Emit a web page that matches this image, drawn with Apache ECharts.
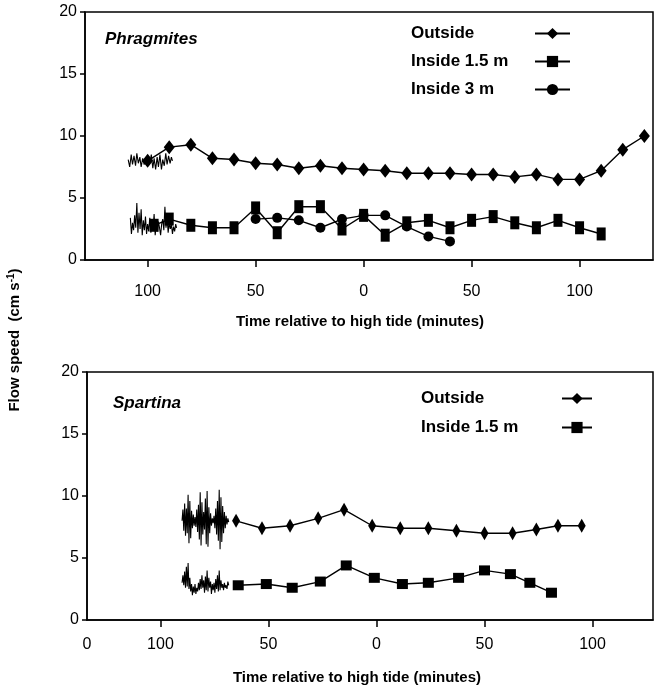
<!DOCTYPE html>
<html>
<head>
<meta charset="utf-8">
<script src="https://cdn.jsdelivr.net/npm/echarts@6/dist/echarts.min.js"></script>
<style>
html,body{margin:0;padding:0;background:#fff;}
#c{width:659px;height:693px;}
</style>
</head>
<body>
<div id="c"></div>
<script>
// ---------- Phragmites (top panel) ----------
const phrOutsideT = [-100,-90,-80,-70,-60,-50,-40,-30,-20,-10,0,10,20,30,40,50,60,70,80,90,100,110,120,130];
const phrOutsideV = [8.0,9.1,9.3,8.2,8.1,7.8,7.7,7.4,7.6,7.4,7.3,7.2,7.0,7.0,7.0,6.9,6.9,6.7,6.9,6.5,6.5,7.2,8.9,10.0];
const phrIn15T = [-97,-90,-80,-70,-60,-50,-40,-30,-20,-10,0,10,20,30,40,50,60,70,80,90,100,110];
const phrIn15V = [2.8,3.3,2.8,2.6,2.6,4.2,2.2,4.3,4.3,2.5,3.6,2.0,3.0,3.2,2.6,3.2,3.5,3.0,2.6,3.2,2.6,2.1];
const phrIn3T = [-50,-40,-30,-20,-10,0,10,20,30,40];
const phrIn3V = [3.3,3.4,3.2,2.6,3.3,3.6,3.6,2.7,1.9,1.5];
// raw (noisy) records at start
const phrOutNoiseT = [-109,-108.3,-107.6,-107,-106.3,-105.6,-105,-104.3,-103.6,-103,-102.3,-101.6,-101,-100.3,-99.6,-99,-98.3,-97.6,-97,-96.3,-95.6,-95,-94.3,-93.6,-93,-92.3,-91.6,-91,-90.3,-89.6,-89,-88.5];
const phrOutNoiseV = [8.1,7.5,8.5,7.7,8.4,7.6,8.6,7.8,8.3,7.5,8.2,7.7,8.0,7.6,8.4,7.8,8.5,7.4,8.2,7.3,8.3,7.5,8.5,7.3,8.1,7.6,8.6,7.7,8.4,7.8,8.3,8.0];
const phrInNoiseT = [-108,-107.5,-107,-106.5,-106,-105.5,-105,-104.5,-104,-103.5,-103,-102.5,-102,-101.5,-101,-100.5,-100,-99.5,-99,-98.5,-98,-97.5,-97,-96.5,-96,-95.5,-95,-94.5,-94,-93.5,-93,-92.5,-92,-91.5,-91,-90.5,-90,-89.5,-89,-88.5,-88,-87.5,-87,-86.6];
const phrInNoiseV = [3.4,2.1,3.0,2.4,3.6,2.6,4.6,2.2,3.8,2.5,4.1,2.0,3.2,2.4,3.5,2.1,2.9,2.3,3.4,2.2,3.0,2.5,3.7,2.0,2.8,2.3,3.1,2.6,2.0,2.9,3.3,2.4,4.3,2.6,3.5,2.2,3.0,2.5,2.9,2.1,2.7,2.3,2.9,2.6];

// ---------- Spartina (bottom panel) ----------
const spaOutsideT = [-65,-53,-40,-27,-15,-2,11,24,37,50,63,74,84,95];
const spaOutsideV = [8.0,7.4,7.6,8.2,8.9,7.6,7.4,7.4,7.2,7.0,7.0,7.3,7.6,7.6];
const spaIn15T = [-64,-51,-39,-26,-14,-1,12,24,38,50,62,71,81];
const spaIn15V = [2.8,2.9,2.6,3.1,4.4,3.4,2.9,3.0,3.4,4.0,3.7,3.0,2.2];
const spaOutNoiseT = [-90,-89.6,-89.2,-88.8,-88.4,-88,-87.6,-87.2,-86.8,-86.4,-86,-85.6,-85.2,-84.8,-84.4,-84,-83.6,-83.2,-82.8,-82.4,-82,-81.6,-81.2,-80.8,-80.4,-80,-79.6,-79.2,-78.8,-78.4,-78,-77.6,-77.2,-76.8,-76.4,-76,-75.6,-75.2,-74.8,-74.4,-74,-73.6,-73.2,-72.8,-72.4,-72,-71.6,-71.2,-70.8,-70.4,-70,-69.6,-69.2,-68.8,-68.4];
const spaOutNoiseV = [8.0,8.9,7.2,9.4,6.8,9.0,7.0,10.1,6.2,9.6,6.6,8.8,7.4,8.5,7.6,8.3,7.5,8.9,7.1,9.3,6.5,10.3,6.0,9.5,6.9,8.7,7.3,9.8,6.1,10.4,5.9,9.1,7.0,8.6,7.6,8.2,7.8,8.4,7.4,9.0,6.9,9.6,6.4,10.5,5.7,9.9,6.3,9.2,7.0,8.7,7.4,8.4,7.7,8.2,7.9];
const spaInNoiseT = spaOutNoiseT;
const spaInNoiseV = [3.0,3.6,2.8,3.9,2.6,4.3,2.7,4.6,2.5,3.4,2.3,2.9,2.0,2.7,2.2,2.9,2.1,2.6,2.3,3.0,2.4,3.3,2.5,3.6,2.6,3.2,2.2,3.5,2.4,4.0,2.3,3.4,2.6,3.1,2.1,2.9,2.4,3.0,2.2,3.3,2.5,3.6,2.3,4.0,2.4,3.2,2.6,2.9,2.4,3.0,2.6,2.8,2.5,3.1,2.8];

// tick labels
const xTicks = [-100,-50,0,50,100];
const yTicks = [0,5,10,15,20];

const zip = (t, v) => t.map((x, i) => [x, v[i]]);
const FONT = '"Liberation Sans", Arial, Helvetica, sans-serif';
const K = '#000';

function xAxisCfg(idx, min, max, labelVals, margin, nameGap, padR) {
  return {
    type: 'value', gridIndex: idx, min: min, max: max,
    axisLine: {show: true, onZero: false, lineStyle: {color: K, width: 1.5}},
    axisTick: {show: true, customValues: xTicks, length: 7, lineStyle: {color: K, width: 1.5}},
    axisLabel: {show: true, customValues: labelVals, showMinLabel: true, margin: margin,
      color: K, fontSize: 16, fontFamily: FONT,
      formatter: v => (v < -120 ? '0' : String(Math.abs(v)))},
    splitLine: {show: false},
    name: 'Time relative to high tide (minutes)', nameLocation: 'middle', nameGap: nameGap,
    nameTextStyle: {color: K, fontSize: 15, fontWeight: 'bold', fontFamily: FONT, padding: [0, padR, 0, 0]}
  };
}
function yAxisCfg(idx) {
  return {
    type: 'value', gridIndex: idx, min: yTicks[0], max: yTicks[yTicks.length - 1], interval: 5,
    axisLine: {show: true, onZero: false, lineStyle: {color: K, width: 1.5}},
    axisTick: {show: true, length: 5, lineStyle: {color: K, width: 1.5}},
    axisLabel: {color: K, fontSize: 16, fontFamily: FONT, margin: 8},
    splitLine: {show: false}
  };
}
function lineSeries(name, data, ax, symbol, size, z) {
  return {
    name: name, type: 'line', xAxisIndex: ax, yAxisIndex: ax, data: data,
    symbol: symbol, symbolSize: size, showSymbol: symbol !== 'none',
    lineStyle: {color: K, width: symbol === 'none' ? 1.1 : 1.4},
    itemStyle: {color: K, borderWidth: 0},
    z: z || 3, silent: true, animation: false
  };
}
function legendCfg(left, top, gap, iw, tw, names) {
  return {
    orient: 'vertical', left: left, top: top, padding: 0, itemGap: gap,
    itemWidth: iw, itemHeight: 14, align: 'right', selectedMode: false,
    data: names, formatter: '{a|{name}}',
    textStyle: {rich: {a: {width: tw, align: 'left', fontSize: 17, fontWeight: 'bold',
      fontFamily: FONT, color: K, lineHeight: 14}}}
  };
}

const chart = echarts.init(document.getElementById('c'), null, {renderer: 'canvas'});
chart.setOption({
  animation: false,
  backgroundColor: '#fff',
  title: [
    {text: 'Phragmites', left: 105, top: 29, padding: 0,
     textStyle: {fontSize: 17, fontWeight: 'bold', fontStyle: 'italic', fontFamily: FONT, color: K, lineHeight: 20}},
    {text: 'Spartina', left: 113, top: 393, padding: 0,
     textStyle: {fontSize: 17, fontWeight: 'bold', fontStyle: 'italic', fontFamily: FONT, color: K, lineHeight: 20}}
  ],
  legend: [
    legendCfg(411, 25, 11, 35, 119, ['Outside', 'Inside 1.5 m', 'Inside 3 m']),
    legendCfg(421, 390, 12, 30, 136, ['Outside', 'Inside 1.5 m'])
  ],
  grid: [
    {left: 85, right: 6, top: 12, height: 248, show: true, borderColor: K, borderWidth: 1.5, backgroundColor: 'transparent'},
    {left: 87, right: 6, top: 372, height: 248, show: true, borderColor: K, borderWidth: 1.5, backgroundColor: 'transparent'}
  ],
  xAxis: [
    xAxisCfg(0, -129, 134, xTicks, 24, 54, 18),
    xAxisCfg(1, -134, 128, [-134].concat(xTicks), 17, 50, 26)
  ],
  yAxis: [yAxisCfg(0), yAxisCfg(1)],
  graphic: [{
    type: 'text', x: 15, y: 340, rotation: Math.PI / 2,
    style: {
      text: 'Flow speed  (cm s{sup|-1})',
      align: 'center', verticalAlign: 'middle',
      font: 'bold 15px ' + FONT, fill: K,
      rich: {sup: {fontSize: 10, fontWeight: 'bold', fontFamily: FONT, fill: K, verticalAlign: 'top', lineHeight: 18}}
    }
  }],
  series: [
    lineSeries('n1', zip(phrOutNoiseT, phrOutNoiseV), 0, 'none', 0, 2),
    lineSeries('n2', zip(phrInNoiseT, phrInNoiseV), 0, 'none', 0, 2),
    lineSeries('Outside', zip(phrOutsideT, phrOutsideV), 0, 'diamond', [11, 14]),
    lineSeries('Inside 1.5 m', zip(phrIn15T, phrIn15V), 0, 'rect', [9, 13]),
    lineSeries('Inside 3 m', zip(phrIn3T, phrIn3V), 0, 'circle', 10),
    lineSeries('n3', zip(spaOutNoiseT, spaOutNoiseV), 1, 'none', 0, 2),
    lineSeries('n4', zip(spaInNoiseT, spaInNoiseV), 1, 'none', 0, 2),
    lineSeries('Outside', zip(spaOutsideT, spaOutsideV), 1, 'diamond', [8, 14]),
    lineSeries('Inside 1.5 m', zip(spaIn15T, spaIn15V), 1, 'rect', [11, 10])
  ]
});
</script>
</body>
</html>
